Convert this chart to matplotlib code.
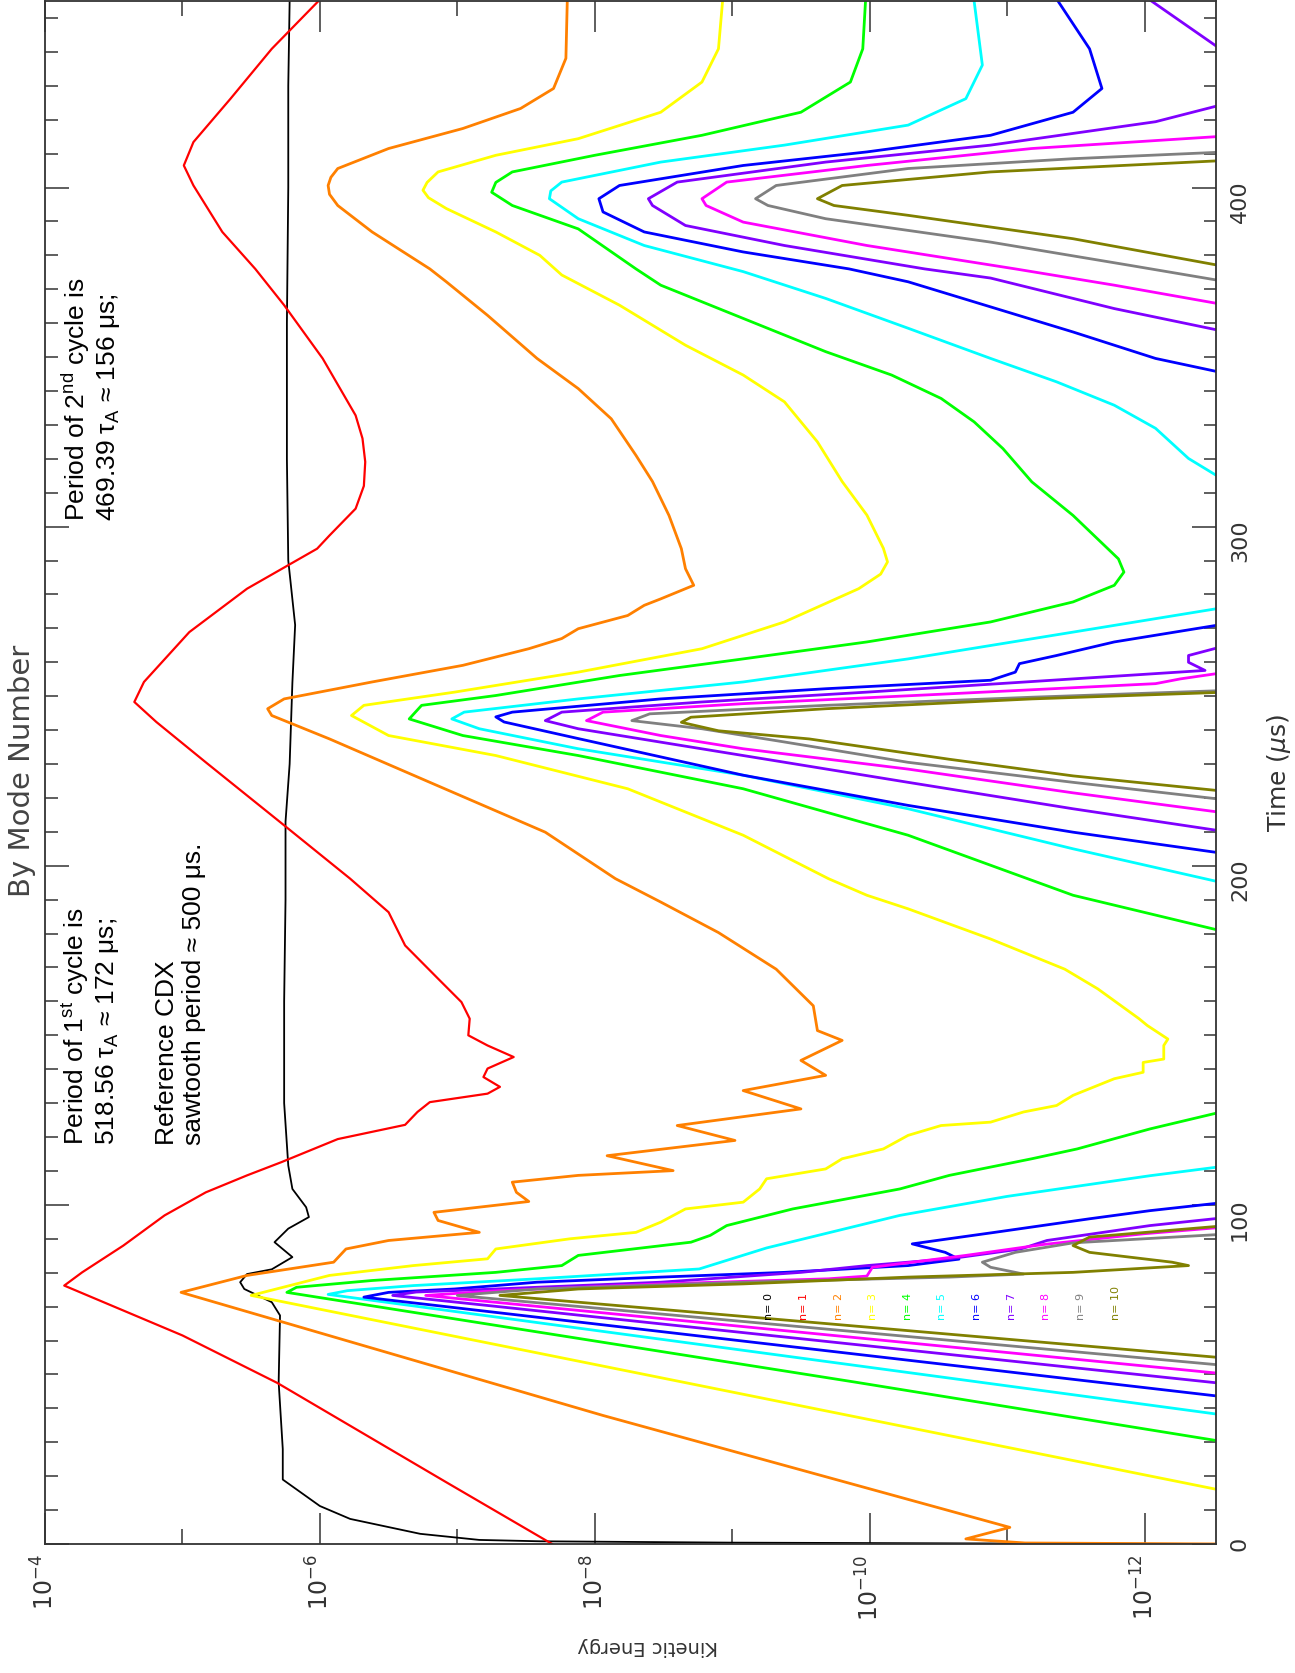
import numpy as np
import matplotlib
matplotlib.use('Agg')
import matplotlib.pyplot as plt
from matplotlib.ticker import MultipleLocator, NullFormatter

# kinetic energy per toroidal mode number
# T = time (us), E = log10(kinetic energy); -15 marks stretches below the plot floor
T0 = [0, 0.15, 0.4, 0.8, 1.2, 3.0, 7.4, 11.2, 19, 28, 47.7, 67.4, 71.3, 75.2, 77.2, 79.6, 81, 84.6, 89, 93,
      96.4, 99.3, 104.7, 111.6, 130, 160, 190, 213, 230, 254, 271, 290, 320, 360, 400, 430, 455]
E0 = [-12.6, -11.0, -9.0, -7.6, -7.16, -6.73, -6.22, -6.0, -5.73, -5.73, -5.7, -5.71, -5.65, -5.45, -5.42, -5.47,
      -5.65, -5.8, -5.67, -5.77, -5.92, -5.9, -5.8, -5.77, -5.74, -5.74, -5.75, -5.75, -5.78, -5.8, -5.82, -5.77,
      -5.76, -5.76, -5.77, -5.77, -5.78]

T1 = [0, 18.2, 47.5, 61.5, 76.2, 80.1, 88, 96.9, 103.7, 108.7, 112.6, 119.4, 123.6, 127.4, 130.3, 132.8, 134.8,
      137.7, 140.2, 143.6, 147, 150, 154.9, 159.8, 166.7, 176.5, 186.3, 196.2, 212.9, 230.5, 242.4, 248.3, 254.2,
      268.9, 281.7, 293.5, 297.4, 305.3, 312, 319.1, 326, 332.8, 349.6, 365.3, 376, 386.9, 400.6, 406.5, 413.4,
      426.2, 440.9, 455]
E1 = [-7.69, -6.92, -5.69, -5.0, -4.14, -4.27, -4.57, -4.87, -5.17, -5.47, -5.72, -6.13, -6.62, -6.71, -6.8, -7.22,
      -7.31, -7.19, -7.22, -7.41, -7.22, -7.08, -7.09, -7.03, -6.86, -6.62, -6.5, -6.22, -5.71, -5.17, -4.81, -4.65,
      -4.72, -5.05, -5.47, -5.98, -6.07, -6.26, -6.32, -6.33, -6.31, -6.26, -6.02, -5.74, -5.53, -5.29, -5.08,
      -5.01, -5.08, -5.35, -5.65, -5.99]

T2 = [0, 0.3, 1.5, 4.9, 37.9, 74.2, 79.2, 83.1, 87.0, 89.5, 91.9, 95.4, 97.8, 101.0, 103.7, 106.7, 108.7, 110.1,
      114.5, 119, 123.4, 128.3, 133.7, 138.2, 142.6, 148.5, 151.4, 158.7, 169.5, 180.3, 189.3, 196.2, 209.9, 224.6,
      237.4, 244.3, 246.3, 249.2, 254.2, 259.1, 264, 267, 269.9, 273.8, 276.8, 278.7, 282.7, 287.6, 293.5, 303.3,
      313.3, 321, 331.8, 340.7, 349.6, 362.3, 372.2, 376, 386.9, 394.7, 398, 400.6, 403, 405.6, 411.5, 417.4, 423.3,
      429.2, 438.1, 455]
E2 = [-12.6, -11.13, -10.7, -11.02, -8.06, -4.99, -5.47, -6.1, -6.19, -6.5, -7.16, -6.86, -6.83, -7.52, -7.43,
      -7.4, -7.88, -8.57, -8.09, -9.02, -8.6, -9.5, -9.08, -9.68, -9.5, -9.8, -9.62, -9.59, -9.32, -8.9, -8.48, -8.15,
      -7.64, -6.8, -6.07, -5.65, -5.62, -5.74, -6.38, -7.04, -7.52, -7.76, -7.88, -8.24, -8.36, -8.48, -8.72, -8.66,
      -8.63, -8.54, -8.42, -8.3, -8.12, -7.88, -7.58, -7.22, -6.92, -6.8, -6.38, -6.13, -6.07, -6.06, -6.08, -6.13,
      -6.5, -7.04, -7.46, -7.7, -7.79, -7.8]

T3 = [15.5, 73.3, 79.2, 82.1, 84.1, 87, 90, 91.9, 94.9, 98.8, 100.8, 104.7, 107.7, 110.6, 113.6, 116.5, 120.5,
      123.4, 124.4, 127.4, 129.3, 132.3, 137.2, 139.1, 142, 143, 147, 148.9, 152.9, 154.9, 163.7, 169.5, 178.4, 187.3,
      191.3, 196.2, 209, 222.7, 232.5, 238.4, 244.3, 247.3, 251.2, 257.1, 264, 271.9, 281.7, 286, 289.6, 293.6, 303.4,
      313.3, 325, 336.8, 344.7, 353.5, 365.3, 374.2, 380, 386.9, 393.8, 397, 399.2, 401.5, 404.6, 409.5, 414.4, 422.2,
      431.1, 440.9, 455]
E3 = [-12.6, -5.5, -6.07, -6.68, -7.22, -7.28, -7.82, -8.3, -8.48, -8.66, -9.08, -9.2, -9.25, -9.68, -9.8, -10.1,
      -10.28, -10.52, -10.88, -11.12, -11.36, -11.48, -11.78, -11.99, -11.99, -12.14, -12.14, -12.17, -12.02, -11.96,
      -11.66, -11.42, -10.88, -10.28, -9.98, -9.7, -9.08, -8.24, -7.28, -6.5, -6.23, -6.32, -6.98, -7.88, -8.78,
      -9.38, -9.92, -10.08, -10.13, -10.1, -9.98, -9.8, -9.62, -9.38, -9.08, -8.66, -8.18, -7.76, -7.6, -7.28, -6.92,
      -6.79, -6.75, -6.78, -6.86, -7.28, -7.88, -8.48, -8.78, -8.9, -8.93]

T4 = [30, 47.7, 74.2, 75.7, 77.7, 80.1, 82.1, 85.1, 89, 91, 93.9, 98.8, 104.7, 108.7, 113.6, 116.5, 122.4, 127.8,
      155, 180.4, 191.3, 209, 222.7, 232.5, 238.4, 243.3, 247.3, 250.2, 256.1, 261, 266, 271.9, 277.8, 282.7, 286.6,
      290.5, 303.3, 313.2, 323, 330.9, 337.8, 344.7, 351.6, 361.4, 371.2, 376, 387.8, 394.7, 398.6, 401.5, 404.6,
      409.5, 415.4, 422.2, 431.1, 440.9, 455]
E4 = [-12.6, -9.9, -5.76, -5.83, -6.38, -7.28, -7.76, -7.88, -8.7, -8.84, -8.96, -9.44, -10.22, -10.58, -11.18,
      -11.51, -12.04, -12.6, -15, -12.6, -11.48, -10.28, -9.08, -7.88, -7.04, -6.65, -6.74, -7.28, -8.18, -9.08,
      -9.98, -10.88, -11.48, -11.78, -11.85, -11.81, -11.48, -11.18, -10.97, -10.76, -10.52, -10.16, -9.68, -9.08,
      -8.48, -8.3, -7.88, -7.4, -7.25, -7.28, -7.4, -8.0, -8.78, -9.5, -9.86, -9.95, -9.97]

T5 = [37.9, 73.6, 74.7, 76.2, 78.2, 81.1, 87.3, 96.9, 102.5, 108.6, 111.5, 150, 194.7, 205, 216.8, 226.7, 234.5,
      240.4, 243.3, 245.3, 249.2, 254.2, 261, 268.9, 276.3, 295, 313.2, 320.1, 329, 335.8, 342.7, 349.6, 358.5,
      367.3, 375.2, 382.9, 390.8, 396.7, 399, 401.6, 407.5, 412.5, 418.4, 426.2, 436.1, 455]
E5 = [-12.6, -6.06, -6.2, -6.68, -7.58, -8.76, -9.25, -10.22, -11.0, -12.04, -12.6, -15, -12.6, -11.48, -10.28,
      -9.08, -7.88, -7.16, -6.96, -7.05, -7.88, -9.08, -10.28, -11.48, -12.6, -15, -12.6, -12.32, -12.08, -11.78,
      -11.36, -10.88, -10.28, -9.68, -9.08, -8.36, -7.88, -7.67, -7.68, -7.76, -8.48, -9.38, -10.28, -10.7, -10.82,
      -10.76]

T6 = [43.3, 72.8, 74.2, 75.2, 77.2, 78.7, 80.1, 82.1, 84.0, 86.0, 88.5, 91.9, 95.9, 98.3, 100.8, 150, 203.5,
      209.9, 217.8, 226.7, 237.5, 242.4, 243.9, 245.3, 249.2, 252.2, 254.7, 257.1, 259.6, 262, 266, 271.4, 310,
      345.1, 349.6, 357.4, 364.8, 372.2, 376, 381, 386.9, 392.8, 396.7, 400.6, 406.5, 410.5, 415.4, 422.2, 429.2,
      440.9, 455]
E6 = [-12.6, -6.32, -6.5, -6.98, -7.58, -8.48, -9.38, -10.28, -10.65, -10.55, -10.31, -10.91, -11.6, -12.04, -12.6,
      -15, -12.6, -11.48, -10.28, -9.08, -7.88, -7.34, -7.28, -7.4, -8.48, -9.68, -10.88, -11.06, -11.09, -11.36,
      -11.78, -12.6, -15, -12.6, -12.08, -11.48, -10.88, -10.28, -9.85, -9.08, -8.36, -8.06, -8.03, -8.18, -9.08,
      -9.98, -10.88, -11.48, -11.69, -11.6, -11.37]

T7 = [47.2, 73.3, 74.3, 75.2, 77.2, 80.1, 82.1, 84.1, 87, 89.5, 93.9, 96.3, 150, 210, 216.8, 224.6, 232.5, 240.4,
      242.8, 245.3, 248.3, 251.2, 255.1, 257.6, 260, 262, 265, 310, 357.4, 364.3, 373.3, 376, 382.9, 388.8, 394.7,
      396.7, 401.6, 407.5, 412.5, 419.4, 424.8, 432, 439.5, 455]
E7 = [-12.6, -6.53, -6.7, -7.28, -8.48, -9.5, -9.98, -10.58, -11.1, -11.29, -12.04, -12.6, -15, -12.6, -11.48,
      -10.28, -9.08, -7.88, -7.64, -7.76, -8.78, -9.98, -11.48, -12.44, -12.32, -12.32, -12.6, -15, -12.6, -11.78,
      -10.88, -10.4, -9.38, -8.66, -8.42, -8.39, -8.6, -9.68, -10.88, -12.08, -12.6, -13.5, -12.6, -12.05]

T8 = [50.1, 73.3, 74.7, 76.7, 78.2, 79.0, 81.6, 85.1, 88.3, 91.5, 93.5, 150, 215.5, 221.5, 228.5, 234.5, 238.4,
      242.8, 245.3, 247.8, 250.7, 253.7, 255.1, 257.1, 310, 365.3, 371.2, 376, 382.9, 389.8, 394.7, 396.7, 401.6,
      406.5, 411.5, 415.2, 430]
E8 = [-12.6, -6.77, -7.3, -8.48, -9.7, -9.98, -10.02, -10.7, -11.26, -12.0, -12.6, -15, -12.6, -11.48, -10.28,
      -9.08, -8.48, -7.94, -8.06, -9.08, -10.58, -12.08, -12.26, -12.6, -15, -12.6, -11.78, -11.06, -9.98, -9.08,
      -8.81, -8.78, -8.96, -9.98, -11.18, -12.6, -15]

T9 = [52.6, 73.3, 75.2, 77.2, 78.7, 79.6, 81.6, 83.1, 86, 88.8, 91.4, 150, 219.4, 224.6, 230.5, 236.5, 240.4,
      242.8, 244.8, 247.3, 249.7, 251.7, 310, 372.2, 377, 383.9, 390.8, 394.7, 396.7, 400.6, 405.6, 408.5, 410.5, 430]
E9 = [-12.6, -7.0, -7.58, -9.08, -10.58, -11.12, -10.88, -10.82, -11.06, -11.48, -12.6, -15, -12.6, -11.48, -10.28,
      -9.38, -8.78, -8.27, -8.4, -9.68, -11.18, -12.6, -15, -12.6, -11.9, -10.88, -9.68, -9.26, -9.17, -9.32, -10.28,
      -11.48, -12.6, -15]

T10 = [54.8, 73.3, 75.2, 76.7, 78.7, 80.1, 82.1, 83.1, 86, 88, 90.5, 93.9, 150, 221.9, 226.5, 231.4, 237.4, 239.8,
       242.3, 243.8, 246.3, 249.2, 251.2, 310, 376.6, 384.9, 391.8, 394.7, 396.7, 400.6, 404.6, 408, 430]
E10 = [-12.6, -7.31, -7.88, -9.08, -10.28, -11.48, -12.32, -12.2, -11.6, -11.48, -11.6, -12.6, -15, -12.6, -11.48,
       -10.58, -9.56, -8.9, -8.63, -8.7, -9.68, -11.18, -12.6, -15, -12.6, -11.48, -10.28, -9.74, -9.62, -9.8, -10.88,
       -12.6, -15]

TIMES = [T0, T1, T2, T3, T4, T5, T6, T7, T8, T9, T10]
LOG_KE = [E0, E1, E2, E3, E4, E5, E6, E7, E8, E9, E10]
MODE_LABELS = ['n= %d' % n for n in range(11)]
COLORS = ['#000000', '#ff0000', '#ff8000', '#ffff00', '#00ff00', '#00ffff',
          '#0000ff', '#8000ff', '#ff00ff', '#808080', '#808000']
KE_TICKS = [1e-4, 1e-6, 1e-8, 1e-10, 1e-12]
KE_TICK_LABELS = [r'$10^{-4}$', r'$10^{-6}$', r'$10^{-8}$', r'$10^{-10}$', r'$10^{-12}$']
KE_MINOR = [1e-5, 1e-7, 1e-9, 1e-11]
TIME_TICKS = [0, 100, 200, 300, 400]

plt.rcParams['mathtext.rm'] = 'Liberation Sans'
plt.rcParams['mathtext.it'] = 'Liberation Sans:italic'
plt.rcParams['mathtext.bf'] = 'Liberation Sans:bold'

W, H = 1295, 1674
fig = plt.figure(figsize=(W / 100, H / 100), dpi=100)
# the whole landscape plot is turned a quarter turn: energy runs across, time runs up
ax = fig.add_axes([45 / W, 1 - 1545 / H, (1216 - 45) / W, (1545 - 2) / H])

for n, (t, e) in enumerate(zip(TIMES, LOG_KE)):
    lw = 1.3 if n == 0 else (1.6 if n == 1 else 2.0)
    ax.plot(10.0 ** np.array(e), t, color=COLORS[n], lw=lw, zorder=2 + n * 0.01)

ax.set_xscale('log')
ax.set_xlim(1e-4, 10 ** -12.52)
ax.set_ylim(0, 455)

ax.set_xticks(KE_TICKS)
ax.set_xticklabels(KE_TICK_LABELS)
ax.set_xticks(KE_MINOR, minor=True)
ax.xaxis.set_minor_formatter(NullFormatter())
ax.set_yticks(TIME_TICKS)
ax.yaxis.set_minor_locator(MultipleLocator(10))

ink = '#333333'
for s in ax.spines.values():
    s.set_color(ink)
    s.set_linewidth(1.3)
ax.tick_params(axis='x', which='major', direction='in', length=22, width=1.1, top=True, bottom=True,
               colors=ink, labelsize=17, labelrotation=90, pad=7)
ax.tick_params(axis='x', which='minor', direction='in', length=11, width=1.1, top=True, bottom=True, colors=ink)
ax.tick_params(axis='y', which='major', direction='in', length=17, width=1.1, left=True, right=True,
               labelleft=False, labelright=True, colors=ink, labelsize=16, labelrotation=90, pad=10)
ax.tick_params(axis='y', which='minor', direction='in', length=9, width=1.1, left=True, right=True, colors=ink)
for lbl in ax.get_xticklabels():
    lbl.set_math_fontfamily('dejavusans')

# mode labels
for n, lab in enumerate(MODE_LABELS):
    ax.text(10 ** (-9.27 - 0.252 * n), 66.4, lab, color=COLORS[n], rotation=90,
            ha='center', va='bottom', fontsize=8)

# annotations
note_kw = dict(rotation=90, ha='left', va='bottom', fontsize=19, family='Liberation Sans',
               math_fontfamily='custom', linespacing=1.15, color='black')
ax.text(10 ** -4.11, 118, 'Period of 1$^{\\mathrm{st}}$ cycle is\n518.56 \u03c4$_{\\mathrm{A}}$ \u2248 172 \u03bcs;',
        **note_kw)
ax.text(10 ** -4.8, 118, 'Reference CDX\nsawtooth period \u2248 500 \u03bcs.', **note_kw)
ax.text(10 ** -4.11, 302, 'Period of 2$^{\\mathrm{nd}}$ cycle is\n469.39 \u03c4$_{\\mathrm{A}}$ \u2248 156 \u03bcs;',
        **note_kw)

fig.text(22 / W, 1 - 771 / H, 'By Mode Number', rotation=90, ha='center', va='center',
         fontsize=21, color='#444444')
fig.text(1279 / W, 1 - 773 / H, r'Time ($\mu$s)', rotation=90, ha='center', va='center',
         fontsize=18, color=ink, math_fontfamily='dejavusans')
fig.text(648 / W, 1 - 1647 / H, 'Kinetic Energy', rotation=180, ha='center', va='center',
         fontsize=14, color=ink)

fig.savefig('out.png', dpi=100)
